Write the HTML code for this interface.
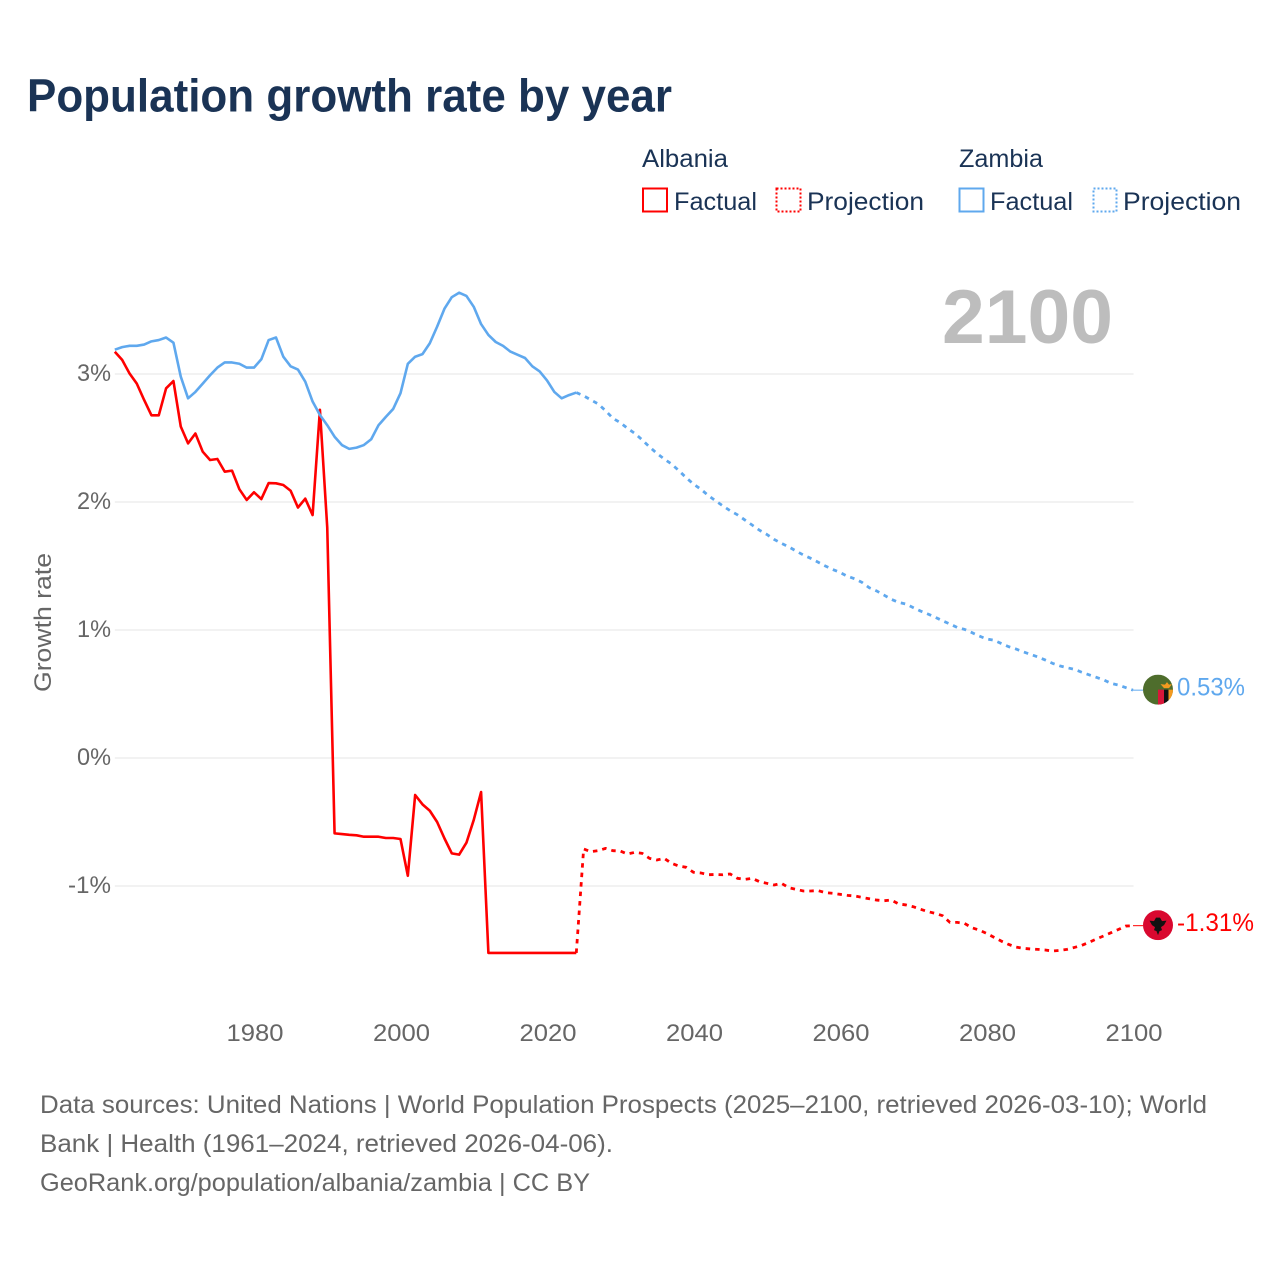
<!DOCTYPE html>
<html lang="en">
<head>
<meta charset="utf-8">
<title>Population growth rate by year</title>
<style>
html,body{margin:0;padding:0;background:#fff;}
svg{display:block;font-family:"Liberation Sans",Arial,sans-serif;}
</style>
</head>
<body>
<svg id="chart" xmlns="http://www.w3.org/2000/svg" width="1280" height="1280" viewBox="0 0 1280 1280">
  <rect x="0" y="0" width="1280" height="1280" fill="#fff"/>
  <text x="27" y="111.5" font-size="46" font-weight="700" fill="#1a3355" textLength="645" lengthAdjust="spacingAndGlyphs">Population growth rate by year</text>

  <g font-size="25" fill="#1a3355">
    <text x="642" y="167" textLength="86" lengthAdjust="spacingAndGlyphs">Albania</text>
    <text x="959" y="167" textLength="84" lengthAdjust="spacingAndGlyphs">Zambia</text>
    <rect x="643" y="188.5" width="24" height="23" fill="none" stroke="#ff0000" stroke-width="2"/>
    <text x="674" y="210" textLength="83" lengthAdjust="spacingAndGlyphs">Factual</text>
    <rect x="776.5" y="188.5" width="24" height="23" fill="none" stroke="#ff0000" stroke-width="2" stroke-dasharray="2 2"/>
    <text x="807" y="210" textLength="117" lengthAdjust="spacingAndGlyphs">Projection</text>
    <rect x="959.5" y="188.5" width="24" height="23" fill="none" stroke="#5fa8ee" stroke-width="2"/>
    <text x="990" y="210" textLength="83" lengthAdjust="spacingAndGlyphs">Factual</text>
    <rect x="1093.5" y="188.5" width="23" height="23" fill="none" stroke="#5fa8ee" stroke-width="2" stroke-dasharray="2 2"/>
    <text x="1123" y="210" textLength="118" lengthAdjust="spacingAndGlyphs">Projection</text>
  </g>

  <text x="942" y="343" font-size="76" font-weight="700" fill="#bdbdbd" textLength="171" lengthAdjust="spacingAndGlyphs">2100</text>
  <text transform="translate(51,622.5) rotate(-90)" text-anchor="middle" font-size="24" fill="#666" textLength="139" lengthAdjust="spacingAndGlyphs">Growth rate</text>

  <g id="grid"></g>
  <g id="yticks"></g>
  <g id="xticks"></g>
  <g id="series"></g>

  <g id="flag-zambia">
    <defs><clipPath id="zm-clip"><circle cx="15" cy="15" r="15"/></clipPath></defs>
    <g clip-path="url(#zm-clip)">
      <rect x="0" y="0" width="30" height="30" fill="#4e6d2c"/>
      <rect x="15" y="15" width="6" height="16" fill="#d8173a"/>
      <rect x="21" y="15" width="4.5" height="16" fill="#111"/>
      <rect x="25.5" y="15" width="5" height="16" fill="#f49a1f"/>
      <polygon points="17.5,9.5 22,10 24,7.5 26,10 29,9.5 26,13.5 21,13.5" fill="#f49a1f"/>
    </g>
  </g>
  <g id="flag-albania">
    <defs><clipPath id="al-clip"><circle cx="15" cy="15" r="15"/></clipPath></defs>
    <g clip-path="url(#al-clip)">
      <rect x="0" y="0" width="30" height="30" fill="#d9082f"/>
      <polygon points="6.5,10.5 11,11 13,7.5 17,7.5 19,11 23.5,10.5 21,15 18,17 19,20 16.5,21 15,25 13.5,21 11,20 12,17 9,15" fill="#111"/>
    </g>
  </g>

  <g font-size="25" fill="#666">
    <text x="40" y="1113" textLength="1167" lengthAdjust="spacingAndGlyphs">Data sources: United Nations | World Population Prospects (2025–2100, retrieved 2026-03-10); World</text>
    <text x="40" y="1152" textLength="573" lengthAdjust="spacingAndGlyphs">Bank | Health (1961–2024, retrieved 2026-04-06).</text>
    <text x="40" y="1191" textLength="550" lengthAdjust="spacingAndGlyphs">GeoRank.org/population/albania/zambia | CC BY</text>
  </g>
</svg>
<script>
const firstYear = 1961;
const yTickValues = [3, 2, 1, 0, -1];
const yTickLabels = ['3%', '2%', '1%', '0%', '-1%'];
const xTickYears = [1980, 2000, 2020, 2040, 2060, 2080, 2100];
const xTickLabels = ['1980', '2000', '2020', '2040', '2060', '2080', '2100'];

// Factual: 1961–2024
const albaniaFactual = [3.174,3.11,3.005,2.925,2.797,2.677,2.677,2.888,2.945,2.59,2.458,2.535,2.393,2.328,2.336,2.237,2.245,2.10,2.016,2.076,2.023,2.148,2.146,2.133,2.088,1.957,2.026,1.898,2.72,1.80,-0.589,-0.594,-0.60,-0.604,-0.615,-0.615,-0.615,-0.625,-0.625,-0.633,-0.92,-0.289,-0.362,-0.412,-0.50,-0.628,-0.745,-0.755,-0.662,-0.484,-0.266,-1.523,-1.523,-1.523,-1.523,-1.523,-1.523,-1.523,-1.523,-1.523,-1.523,-1.523,-1.523,-1.523];
const zambiaFactual = [3.19,3.21,3.22,3.22,3.23,3.255,3.265,3.285,3.245,2.98,2.81,2.86,2.925,2.99,3.05,3.09,3.09,3.08,3.05,3.05,3.115,3.265,3.285,3.135,3.06,3.035,2.94,2.785,2.68,2.60,2.51,2.445,2.415,2.425,2.445,2.49,2.60,2.665,2.727,2.85,3.08,3.135,3.155,3.24,3.37,3.51,3.60,3.635,3.61,3.525,3.39,3.305,3.25,3.22,3.175,3.15,3.125,3.06,3.02,2.95,2.86,2.81,2.835,2.855];

// Projection: 2025–2100
const albaniaProjection = [-0.711,-0.732,-0.724,-0.706,-0.724,-0.727,-0.75,-0.737,-0.745,-0.784,-0.797,-0.784,-0.823,-0.844,-0.854,-0.893,-0.898,-0.912,-0.91,-0.912,-0.906,-0.94,-0.948,-0.94,-0.966,-0.979,-0.992,-0.979,-1.013,-1.026,-1.039,-1.039,-1.036,-1.052,-1.057,-1.065,-1.073,-1.078,-1.089,-1.10,-1.11,-1.115,-1.11,-1.14,-1.148,-1.162,-1.182,-1.20,-1.214,-1.232,-1.284,-1.284,-1.292,-1.326,-1.344,-1.37,-1.40,-1.43,-1.456,-1.477,-1.487,-1.492,-1.495,-1.50,-1.508,-1.503,-1.495,-1.48,-1.464,-1.44,-1.414,-1.39,-1.365,-1.34,-1.313,-1.31];
const zambiaProjection = [2.83,2.797,2.766,2.713,2.654,2.62,2.575,2.535,2.485,2.43,2.38,2.336,2.297,2.245,2.19,2.14,2.10,2.052,2.01,1.97,1.932,1.90,1.86,1.82,1.78,1.747,1.708,1.677,1.65,1.617,1.586,1.56,1.53,1.50,1.473,1.45,1.42,1.40,1.372,1.33,1.305,1.273,1.24,1.216,1.203,1.175,1.148,1.125,1.10,1.072,1.047,1.02,1.005,0.98,0.953,0.93,0.92,0.895,0.87,0.852,0.83,0.81,0.79,0.766,0.74,0.72,0.705,0.693,0.67,0.65,0.63,0.61,0.583,0.57,0.55,0.53];

const albaniaEndLabel = '-1.31%';
const zambiaEndLabel = '0.53%';

const RED = '#ff0000';
const BLUE = '#5fa8ee';
const NS = 'http://www.w3.org/2000/svg';

function xScale(year) { return 254 + (year - 1980) * 7.325; }
function yScale(value) { return 758 - value * 128; }

function pathFrom(values, startYear) {
  let d = '';
  values.forEach(function (v, i) {
    d += (i ? 'L' : 'M') + xScale(startYear + i).toFixed(2) + ' ' + yScale(v).toFixed(2);
  });
  return d;
}

function makeText(parent, x, y, str, size, fill, anchor, len) {
  const t = document.createElementNS(NS, 'text');
  t.setAttribute('x', x);
  t.setAttribute('y', y);
  t.setAttribute('font-size', size);
  t.setAttribute('fill', fill);
  t.setAttribute('text-anchor', anchor);
  if (len) {
    t.setAttribute('textLength', len);
    t.setAttribute('lengthAdjust', 'spacingAndGlyphs');
  }
  t.textContent = str;
  parent.appendChild(t);
  return t;
}

const gridG = document.getElementById('grid');
const yG = document.getElementById('yticks');
const xG = document.getElementById('xticks');
const seriesG = document.getElementById('series');

yTickValues.forEach(function (v, i) {
  const line = document.createElementNS(NS, 'line');
  
  
  line.setAttribute('x1', xScale(firstYear));
  line.setAttribute('x2', 1133.5);
  line.setAttribute('y1', yScale(v));
  line.setAttribute('y2', yScale(v));
  line.setAttribute('stroke', '#eeeeee');
  line.setAttribute('stroke-width', '1.6');
  gridG.appendChild(line);
  const label = yTickLabels[i];
  const t = makeText(yG, 111, yScale(v) + 7, label, 24, '#666', 'end', label.length === 3 ? 43 : 34);
  
  
});

xTickYears.forEach(function (year, i) {
  const t = makeText(xG, xScale(year) + 1, 1041, xTickLabels[i], 24, '#666', 'middle', 57);
  
  
});

function addLine(values, startYear, color, dashed, name) {
  const p = document.createElementNS(NS, 'path');
  
  
  p.setAttribute('d', pathFrom(values, startYear));
  p.setAttribute('fill', 'none');
  p.setAttribute('stroke', color);
  p.setAttribute('stroke-width', dashed ? '2.8' : '2.6');
  p.setAttribute('stroke-linejoin', 'round');
  if (dashed) { p.setAttribute('stroke-dasharray', '4.5 5'); }
  seriesG.appendChild(p);
}

const lastFactualYear = firstYear + albaniaFactual.length - 1;
addLine(albaniaFactual, firstYear, RED, false, 'albania-factual-line');
addLine([albaniaFactual[albaniaFactual.length - 1]].concat(albaniaProjection), lastFactualYear, RED, true, 'albania-projection-line');
addLine(zambiaFactual, firstYear, BLUE, false, 'zambia-factual-line');
addLine([zambiaFactual[zambiaFactual.length - 1]].concat(zambiaProjection), lastFactualYear, BLUE, true, 'zambia-projection-line');

const endYear = lastFactualYear + albaniaProjection.length;

function addEnd(value, color, flagId, label, labelLen, connectorName, labelName) {
  const y = yScale(value);
  const c = document.createElementNS(NS, 'line');
  
  
  c.setAttribute('x1', xScale(endYear));
  c.setAttribute('x2', 1143);
  c.setAttribute('y1', y);
  c.setAttribute('y2', y);
  c.setAttribute('stroke', color);
  c.setAttribute('stroke-width', '1');
  seriesG.appendChild(c);
  document.getElementById(flagId).setAttribute('transform', 'translate(1143,' + (y - 15.5) + ')');
  const t = makeText(document.getElementById('chart'), 1177, y + 5.5, label, 25, color, 'start', labelLen);
  
  
}

addEnd(zambiaProjection[zambiaProjection.length - 1], BLUE, 'flag-zambia', zambiaEndLabel, 68, 'zambia-end-connector', 'zambia-end-value');
addEnd(albaniaProjection[albaniaProjection.length - 1], RED, 'flag-albania', albaniaEndLabel, 77, 'albania-end-connector', 'albania-end-value');
</script>
</body>
</html>
